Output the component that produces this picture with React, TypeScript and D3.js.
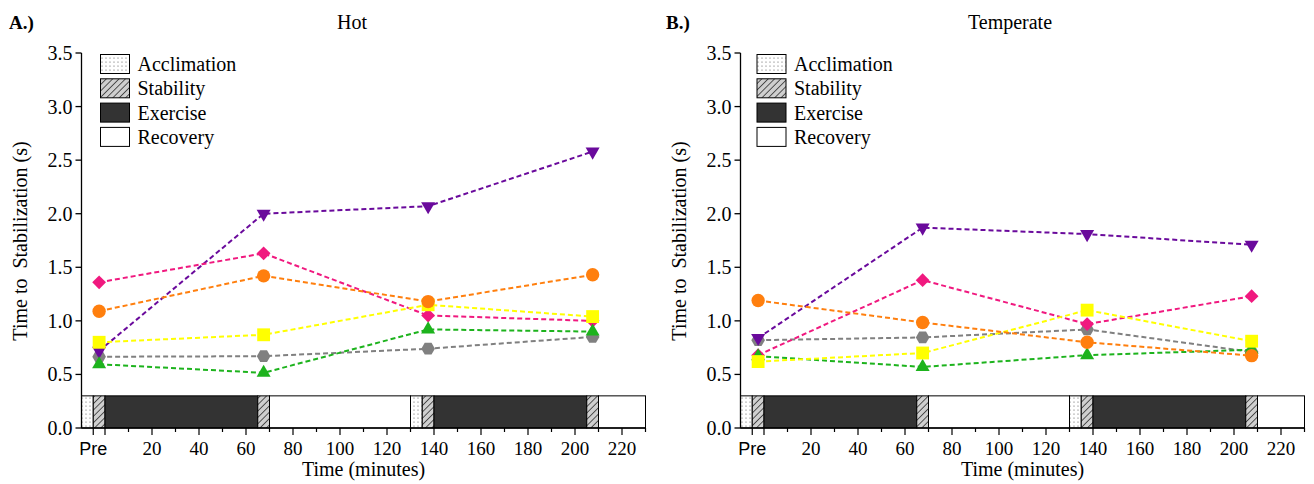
import React from "react";
import * as d3 from "d3";

// ---- data ----
const timePoints = [-2.5, 67.5, 137.5, 207.5];
const seriesNames = ["gray", "purple", "pink", "green", "yellow", "orange"];
const seriesColors = ["#808080", "#6A0A9C", "#F0197F", "#1DB31D", "#FFFF00", "#FF7F0E"];
const seriesShapes = ["hexagon", "triangleDown", "diamond", "triangle", "square", "circle"];

const hotGray = [0.665, 0.67, 0.74, 0.85];
const hotPurple = [0.72, 2.0, 2.07, 2.58];
const hotPink = [1.36, 1.63, 1.05, 1.0];
const hotGreen = [0.595, 0.515, 0.92, 0.9];
const hotYellow = [0.8, 0.87, 1.15, 1.04];
const hotOrange = [1.09, 1.42, 1.18, 1.43];

const tempGray = [0.82, 0.845, 0.92, 0.71];
const tempPurple = [0.84, 1.87, 1.81, 1.71];
const tempPink = [0.68, 1.38, 0.97, 1.23];
const tempGreen = [0.67, 0.57, 0.68, 0.73];
const tempYellow = [0.62, 0.7, 1.1, 0.81];
const tempOrange = [1.19, 0.985, 0.8, 0.675];

const phaseNames = ["Acclimation", "Stability", "Exercise", "Recovery"];
const phaseStarts = [-10, -5, 0, 65, 70, 130, 135, 140, 205, 210];
const phaseEnds = [-5, 0, 65, 70, 130, 135, 140, 205, 210, 230];
const phaseTypes = ["Acclimation", "Stability", "Exercise", "Stability", "Recovery", "Acclimation", "Stability", "Exercise", "Stability", "Recovery"];
const phaseHeight = 0.3;

const yTicks = [0, 0.5, 1.0, 1.5, 2.0, 2.5, 3.0, 3.5];
const xMajorTicks = [20, 40, 60, 80, 100, 120, 140, 160, 180, 200, 220];
const xMinorTicks = d3.range(0, 231, 10);
const preTick = -5;

const panelsInfo = [
  { letter: "A.)", title: "Hot", x0: 81.5, letterX: 9, titleX: 352, legendX: 100.5, data: [hotGray, hotPurple, hotPink, hotGreen, hotYellow, hotOrange] },
  { letter: "B.)", title: "Temperate", x0: 740.5, letterX: 666, titleX: 1010, legendX: 757, data: [tempGray, tempPurple, tempPink, tempGreen, tempYellow, tempOrange] },
];

const SERIF = "'Liberation Serif', 'DejaVu Serif', serif";
const SANS = "'Liberation Sans', Arial, sans-serif";
const PLOT_W = 564;
const Y_TOP = 53;
const Y_BOTTOM = 428;

function phaseFill(t: string) {
  if (t === "Acclimation") return "url(#dots)";
  if (t === "Stability") return "url(#hatch)";
  if (t === "Exercise") return "#333333";
  return "#ffffff";
}

function hexPath(r: number) {
  const pts = d3.range(6).map((i) => {
    const a = (Math.PI / 3) * i;
    return [r * Math.cos(a), r * Math.sin(a)];
  });
  return "M" + pts.map((p) => p.join(",")).join("L") + "Z";
}

function markerPath(shape: string) {
  switch (shape) {
    case "circle":
      return d3.symbol(d3.symbolCircle, 140)() as string;
    case "square":
      return d3.symbol(d3.symbolSquare, 165)() as string;
    case "diamond":
      return d3.symbol(d3.symbolSquare, 95)() as string;
    case "triangle":
    case "triangleDown":
      return d3.symbol(d3.symbolTriangle, 85)() as string;
    default:
      return hexPath(6.8);
  }
}

function markerRotate(shape: string) {
  if (shape === "diamond") return 45;
  if (shape === "triangleDown") return 180;
  return 0;
}

const yScale = d3.scaleLinear().domain([0, 3.5]).range([Y_BOTTOM, Y_TOP]);

function T(props: any) {
  const { family, size, weight, children, ...rest } = props;
  return (
    <text {...rest} fontFamily={family || SERIF} fontSize={size} fontWeight={weight || "normal"} style={{ whiteSpace: "pre" }}>
      {children}
    </text>
  );
}

function Panel({ info }: { info: any }) {
  const x = d3.scaleLinear().domain([-10, 230]).range([info.x0, info.x0 + PLOT_W]);
  const line = d3
    .line<number>()
    .x((_, i) => x(timePoints[i]))
    .y((d) => yScale(d));
  const legendY0 = 54.5;
  const legendStep = 24.3;
  return (
    <g>
      <T x={info.letterX} y={29} size={19} weight="bold">
        {info.letter}
      </T>
      <T x={info.titleX} y={29} size={20} textAnchor="middle">
        {info.title}
      </T>

      {/* phase bar */}
      {phaseStarts.map((s, i) => (
        <rect
          key={"ph" + i}
          x={x(s)}
          y={yScale(phaseHeight)}
          width={x(phaseEnds[i]) - x(s)}
          height={yScale(0) - yScale(phaseHeight)}
          fill={phaseFill(phaseTypes[i])}
          stroke="#000"
          strokeWidth={1}
        />
      ))}

      {/* series */}
      {info.data.map((vals: number[], si: number) => (
        <g key={"s" + si}>
          <path d={line(vals) as string} fill="none" stroke={seriesColors[si]} strokeWidth={2} strokeDasharray="5,3" />
          {vals.map((v, i) => (
            <path
              key={i}
              d={markerPath(seriesShapes[si])}
              transform={`translate(${x(timePoints[i])},${yScale(v)}) rotate(${markerRotate(seriesShapes[si])})`}
              fill={seriesColors[si]}
            />
          ))}
        </g>
      ))}

      {/* y axis */}
      <line x1={info.x0} x2={info.x0} y1={Y_TOP} y2={Y_BOTTOM} stroke="#000" strokeWidth={1.3} />
      {yTicks.map((t) => (
        <g key={"yt" + t}>
          <line x1={info.x0 - 6} x2={info.x0} y1={yScale(t)} y2={yScale(t)} stroke="#000" strokeWidth={1.3} />
          <T x={info.x0 - 9} y={yScale(t)} dy="0.35em" size={20} textAnchor="end">
            {t.toFixed(1)}
          </T>
        </g>
      ))}
      <T transform={`translate(${info.x0 - 55},${241}) rotate(-90)`} size={20} textAnchor="middle">
        {"Time to  Stabilization (s)"}
      </T>

      {/* x axis */}
      <line x1={info.x0} x2={info.x0 + PLOT_W} y1={Y_BOTTOM} y2={Y_BOTTOM} stroke="#000" strokeWidth={1.3} />
      {xMinorTicks.map((t) => (
        <line key={"xm" + t} x1={x(t)} x2={x(t)} y1={Y_BOTTOM} y2={Y_BOTTOM + (t % 20 === 0 ? 7 : 4)} stroke="#000" strokeWidth={1.2} />
      ))}
      <line x1={x(preTick)} x2={x(preTick)} y1={Y_BOTTOM} y2={Y_BOTTOM + 7} stroke="#000" strokeWidth={1.2} />
      <T x={x(preTick)} y={455} family={SANS} size={18} textAnchor="middle">
        Pre
      </T>
      {xMajorTicks.map((t) => (
        <T key={"xl" + t} x={x(t)} y={455} size={19} textAnchor="middle">
          {String(t)}
        </T>
      ))}
      <T x={info.x0 + PLOT_W / 2} y={476} size={20} textAnchor="middle">
        Time (minutes)
      </T>

      {/* legend */}
      {phaseNames.map((n, i) => (
        <g key={"lg" + n}>
          <rect x={info.legendX} y={legendY0 + i * legendStep} width={29} height={19} fill={phaseFill(n)} stroke="#000" strokeWidth={1} />
          <T x={info.legendX + 37} y={legendY0 + i * legendStep + 16.5} size={20}>
            {n}
          </T>
        </g>
      ))}
    </g>
  );
}

export default function App() {
  return (
    <svg width={1314} height={484} style={{ position: "absolute", left: 0, top: 0, background: "#fff" }}>
      <defs>
        <pattern id="dots" width={4} height={4} patternUnits="userSpaceOnUse">
          <rect width={4} height={4} fill="#fff" />
          <circle cx={2} cy={2} r={0.6} fill="#555" />
        </pattern>
        <pattern id="hatch" width={4.5} height={4.5} patternUnits="userSpaceOnUse" patternTransform="rotate(45)">
          <rect width={4.5} height={4.5} fill="#cfcfcf" />
          <line x1={0} y1={0} x2={0} y2={4.5} stroke="#333" strokeWidth={1.6} />
        </pattern>
      </defs>
      <rect width={1314} height={484} fill="#fff" />
      {panelsInfo.map((p) => (
        <Panel key={p.title} info={p} />
      ))}
    </svg>
  );
}
